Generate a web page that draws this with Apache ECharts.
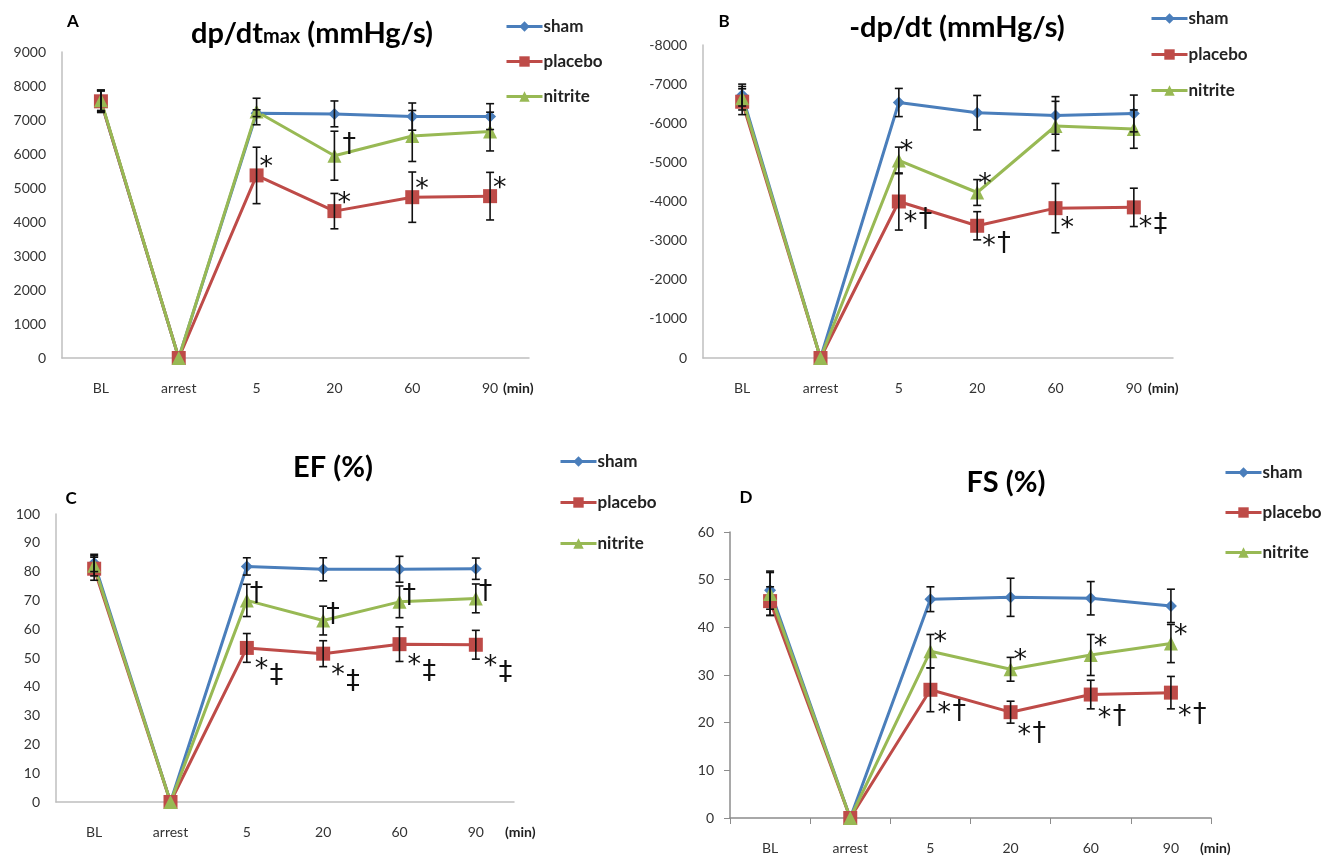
<!DOCTYPE html>
<html>
<head>
<meta charset="utf-8">
<script src="https://cdn.jsdelivr.net/npm/echarts@6/dist/echarts.min.js"></script>
<style>
  html, body { margin: 0; padding: 0; background: #fff; }
  #chart { width: 1337px; height: 862px; }
</style>
</head>
<body>
<div id="chart"></div>
<script>
// categories on every x axis
const categories = ['BL', 'arrest', '5', '20', '60', '90'];
const groups = ['sham', 'placebo', 'nitrite'];

// A: dp/dtmax (mmHg/s)
const shamA = [7550, 0, 7200, 7180, 7100, 7100];
const placeboA = [7550, 0, 5370, 4320, 4730, 4760];
const nitriteA = [7580, 0, 7250, 5950, 6530, 6660];
const shamAErr = [300, 0, 100, 380, 400, 380];
const placeboAErr = [330, 0, 830, 520, 740, 700];
const nitriteAErr = [300, 0, 390, 720, 750, 570];

// B: -dp/dt (mmHg/s)
const shamB = [-6720, 0, -6530, -6270, -6200, -6250];
const placeboB = [-6550, 0, -4000, -3380, -3830, -3850];
const nitriteB = [-6640, 0, -5050, -4230, -5930, -5850];
const shamBErr = [280, 0, 360, 440, 480, 470];
const placeboBErr = [330, 0, 730, 360, 630, 490];
const nitriteBErr = [300, 0, 340, 330, 630, 490];

// C: EF (%)
const shamC = [83, 0, 81.8, 80.8, 80.8, 81];
const placeboC = [81, 0, 53.5, 51.5, 54.8, 54.6];
const nitriteC = [82, 0, 70, 63, 69.5, 70.7];
const shamCErr = [3, 0, 3, 4, 4.5, 3.7];
const placeboCErr = [4, 0, 5, 4.5, 6, 5];
const nitriteCErr = [3.5, 0, 5.6, 5, 5.5, 5];

// D: FS (%)
const shamD = [47.8, 0, 45.9, 46.3, 46.1, 44.5];
const placeboD = [45.5, 0, 26.9, 22.2, 25.9, 26.3];
const nitriteD = [47, 0, 35, 31.2, 34.2, 36.6];
const shamDErr = [4, 0, 2.6, 4, 3.5, 3.5];
const placeboDErr = [3, 0, 4.6, 2.3, 3, 3.4];
const nitriteDErr = [4.5, 0, 3.5, 2.5, 4.3, 4];

// significance marks
const placeboAMarks = ['', '', '*', '*', '*', '*'];
const nitriteAMarks = ['', '', '', '†', '', ''];
const placeboBMarks = ['', '', '*†', '*†', '*', '*‡'];
const nitriteBMarks = ['', '', '*', '*', '', ''];
const placeboCMarks = ['', '', '*‡', '*‡', '*‡', '*‡'];
const nitriteCMarks = ['', '', '†', '†', '†', '†'];
const placeboDMarks = ['', '', '*†', '*†', '*†', '*†'];
const nitriteDMarks = ['', '', '*', '*', '*', '*'];

const colors = { sham: '#4a7ebb', placebo: '#be4b48', nitrite: '#98b954' };
const symbols = {
  sham: { symbol: 'diamond', symbolSize: 12 },
  placebo: { symbol: 'rect', symbolSize: 14 },
  nitrite: { symbol: 'triangle', symbolSize: 14 }
};
const FONT = 'Lato, "Open Sans", sans-serif';

const chart = echarts.init(document.getElementById('chart'));

const grids = [
  { left: 62, top: 52, width: 467, height: 306 },
  { left: 703, top: 45, width: 470, height: 313 },
  { left: 56, top: 514, width: 458, height: 288 },
  { left: 730, top: 532, width: 481, height: 286 }
];

function xAxis(i, ticks) {
  return {
    type: 'category', gridIndex: i, data: categories, boundaryGap: true,
    axisLine: { lineStyle: { color: ticks ? '#8c8c8c' : '#bfbfbf', width: 1.5 } },
    axisTick: { show: ticks, length: 6, lineStyle: { color: '#8c8c8c' } },
    axisLabel: { color: '#333', fontSize: 14, fontFamily: FONT, margin: 23 }
  };
}
function yAxis(i, min, max, interval, ticks, inverse) {
  return {
    type: 'value', gridIndex: i, min: min, max: max, interval: interval, inverse: !!inverse,
    splitLine: { show: false },
    axisLine: { show: true, lineStyle: { color: ticks ? '#8c8c8c' : '#bfbfbf', width: 1.5 } },
    axisTick: { show: ticks, length: 6, lineStyle: { color: '#8c8c8c' } },
    axisLabel: { color: '#333', fontSize: 14, fontFamily: FONT, margin: 16,
      formatter: function (v) { return String(v); } }
  };
}

function lineSeries(name, i, data) {
  return {
    name: name, type: 'line', xAxisIndex: i, yAxisIndex: i, data: data,
    symbol: symbols[name].symbol, symbolSize: symbols[name].symbolSize,
    lineStyle: { color: colors[name], width: 3 },
    itemStyle: { color: colors[name] },
    z: 3
  };
}

function errSeries(i, data, err) {
  const d = [];
  data.forEach(function (v, k) {
    if (err[k] > 0) d.push([k, v - err[k], v + err[k]]);
  });
  return {
    type: 'custom', xAxisIndex: i, yAxisIndex: i, data: d, z: 5, silent: true,
    renderItem: function (params, api) {
      const lo = api.coord([api.value(0), api.value(1)]);
      const hi = api.coord([api.value(0), api.value(2)]);
      const w = 4;
      const st = { stroke: '#111', lineWidth: 1.6 };
      return {
        type: 'group', children: [
          { type: 'line', shape: { x1: lo[0], y1: lo[1], x2: hi[0], y2: hi[1] }, style: st },
          { type: 'line', shape: { x1: lo[0] - w, y1: lo[1], x2: lo[0] + w, y2: lo[1] }, style: st },
          { type: 'line', shape: { x1: hi[0] - w, y1: hi[1], x2: hi[0] + w, y2: hi[1] }, style: st }
        ]
      };
    }
  };
}

// star goes at starOff, daggers at restOff (pixel offsets from the point)
function markSeries(i, data, marks, starOff, restOff) {
  const d = [];
  data.forEach(function (v, k) { d.push([k, v]); });
  const st = { fill: '#111', fontSize: 27, fontFamily: '"DejaVu Sans", sans-serif', align: 'left', verticalAlign: 'middle' };
  return {
    type: 'custom', xAxisIndex: i, yAxisIndex: i, data: d, z: 6, silent: true,
    renderItem: function (params, api) {
      const txt = marks[params.dataIndex];
      if (!txt) return null;
      const p = api.coord([api.value(0), api.value(1)]);
      const kids = [];
      let rest = txt;
      if (txt[0] === '*') {
        kids.push({ type: 'text', x: p[0] + starOff[0], y: p[1] + starOff[1], style: Object.assign({ text: '*' }, st) });
        rest = txt.slice(1);
      }
      if (rest) {
        kids.push({ type: 'text', x: p[0] + restOff[0], y: p[1] + restOff[1], style: Object.assign({ text: rest }, st) });
      }
      return { type: 'group', children: kids };
    }
  };
}

function panelSeries(i, sham, placebo, nitrite, shamErr, placeboErr, nitriteErr) {
  return [
    lineSeries('sham', i, sham),
    lineSeries('placebo', i, placebo),
    lineSeries('nitrite', i, nitrite),
    errSeries(i, sham, shamErr),
    errSeries(i, placebo, placeboErr),
    errSeries(i, nitrite, nitriteErr)
  ];
}

function legend(left, top, gap) {
  return {
    data: groups, orient: 'vertical', left: left, top: top, itemGap: gap,
    itemWidth: 36, itemHeight: 13, selectedMode: false,
    lineStyle: { width: 3 },
    textStyle: { fontSize: 17, fontWeight: 'bold', color: '#222', fontFamily: FONT, padding: [0, 0, 0, -4] }
  };
}

function title(text, x, y, size) {
  return { text: text, left: x, top: y, textAlign: 'center',
    textStyle: { fontSize: size, fontWeight: 'bold', color: '#000', fontFamily: FONT } };
}

let series = [];
series = series.concat(panelSeries(0, shamA, placeboA, nitriteA, shamAErr, placeboAErr, nitriteAErr));
series = series.concat(panelSeries(1, shamB, placeboB, nitriteB, shamBErr, placeboBErr, nitriteBErr));
series = series.concat(panelSeries(2, shamC, placeboC, nitriteC, shamCErr, placeboCErr, nitriteCErr));
series = series.concat(panelSeries(3, shamD, placeboD, nitriteD, shamDErr, placeboDErr, nitriteDErr));
series.push(markSeries(0, placeboA, placeboAMarks, [3, -7], [0, 0]));
series.push(markSeries(0, nitriteA, nitriteAMarks, [0, 0], [8, -11]));
series.push(markSeries(1, placeboB, placeboBMarks, [5, 21], [20, 18]));
series.push(markSeries(1, nitriteB, nitriteBMarks, [1, -8], [0, 0]));
series.push(markSeries(2, placeboC, placeboCMarks, [8, 22], [23, 28]));
series.push(markSeries(2, nitriteC, nitriteCMarks, [0, 0], [3, -6]));
series.push(markSeries(3, placeboD, placeboDMarks, [7, 24], [22, 22]));
series.push(markSeries(3, nitriteD, nitriteDMarks, [3, -8], [0, 0]));

const minStyle = { fontSize: 14, fontWeight: 'bold', fill: '#222', fontFamily: FONT };

chart.setOption({
  backgroundColor: '#fff',
  animation: false,
  title: [
    { text: '{a|dp/dt}{b|max}{a| (mmHg/s)}', left: 307, top: 14, textAlign: 'center',
      textStyle: { rich: {
        a: { fontSize: 29, fontWeight: 'bold', color: '#000', fontFamily: FONT },
        b: { fontSize: 20, fontWeight: 'bold', color: '#000', fontFamily: FONT, padding: [6, 0, 0, 0] }
      } } },
    title('-dp/dt (mmHg/s)', 952, 8, 29),
    title('EF (%)', 328, 448, 29),
    title('FS (%)', 1001, 463, 29),
    title('A', 68, 8, 17),
    title('B', 719, 8, 17),
    title('C', 66, 485, 17),
    title('D', 741, 484, 17)
  ],
  legend: [
    legend(500, 13, 18),
    legend(1145, 5, 19),
    legend(554, 448, 24),
    legend(1219, 459, 23)
  ],
  grid: grids,
  xAxis: [xAxis(0, false), xAxis(1, false), xAxis(2, false), xAxis(3, true)],
  yAxis: [
    yAxis(0, 0, 9000, 1000, false),
    yAxis(1, -8000, 0, 1000, false, true),
    yAxis(2, 0, 100, 10, false),
    yAxis(3, 0, 60, 10, true)
  ],
  graphic: [
    { type: 'text', left: 503, top: 381, style: Object.assign({ text: '(min)' }, minStyle) },
    { type: 'text', left: 1148, top: 381, style: Object.assign({ text: '(min)' }, minStyle) },
    { type: 'text', left: 505, top: 825, style: Object.assign({ text: '(min)' }, minStyle) },
    { type: 'text', left: 1200, top: 841, style: Object.assign({ text: '(min)' }, minStyle) }
  ],
  series: series
});
</script>
</body>
</html>
